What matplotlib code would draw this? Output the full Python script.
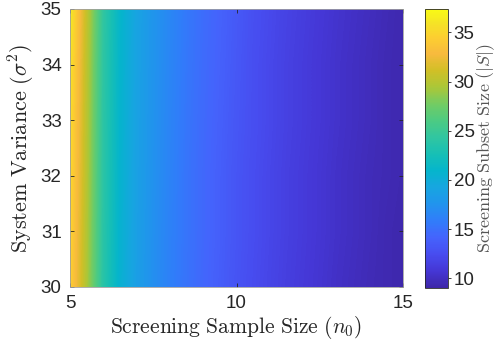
"""Heatmap of screening subset size versus sample size and variance."""
import numpy as np
import matplotlib
matplotlib.use("Agg")
import matplotlib.pyplot as plt
from matplotlib.colors import LinearSegmentedColormap

plt.rcParams['font.family'] = ['Liberation Sans', 'DejaVu Sans']
plt.rcParams['mathtext.fontset'] = 'cm'

# Grid: screening sample size n0 and system variance sigma^2
n0 = [5, 5.5, 6, 6.5, 7, 7.5, 8, 8.5, 9, 9.5, 10,
      10.5, 11, 11.5, 12, 12.5, 13, 13.5, 14, 14.5, 15]
sigma2 = [30, 31, 32, 33, 34, 35]

# Screening subset size |S|, one row per variance level
subset_size = [
    [34.6, 29.6, 23.8, 20.6, 18.6, 17.2, 16.1, 15.2, 14.4, 13.7, 13.0,
     12.4, 11.9, 11.4, 11.0, 10.6, 10.2, 9.9, 9.6, 9.4, 9.2],
    [35.0, 29.8, 23.9, 20.7, 18.7, 17.3, 16.2, 15.3, 14.5, 13.8, 13.1,
     12.5, 12.0, 11.5, 11.1, 10.7, 10.3, 10.0, 9.7, 9.4, 9.2],
    [35.3, 30.0, 24.0, 20.8, 18.8, 17.4, 16.3, 15.3, 14.5, 13.8, 13.1,
     12.5, 12.0, 11.5, 11.1, 10.7, 10.3, 10.0, 9.7, 9.5, 9.3],
    [35.6, 30.1, 24.1, 20.9, 18.9, 17.5, 16.4, 15.4, 14.6, 13.9, 13.2,
     12.6, 12.1, 11.6, 11.2, 10.8, 10.4, 10.1, 9.8, 9.5, 9.3],
    [36.0, 30.3, 24.2, 21.0, 19.0, 17.6, 16.5, 15.5, 14.7, 14.0, 13.3,
     12.6, 12.1, 11.6, 11.2, 10.8, 10.4, 10.1, 9.8, 9.5, 9.3],
    [36.6, 30.6, 24.4, 21.1, 19.1, 17.7, 16.6, 15.6, 14.8, 14.1, 13.4,
     12.7, 12.2, 11.7, 11.3, 10.9, 10.5, 10.2, 9.9, 9.6, 9.3],
]

# Approximation of MATLAB's parula colormap
parula_pts = [
    (0.00, (0.2422, 0.1504, 0.6603)),
    (0.06, (0.2704, 0.2139, 0.8346)),
    (0.12, (0.2810, 0.3000, 0.9400)),
    (0.18, (0.2700, 0.3900, 0.9900)),
    (0.24, (0.1900, 0.4900, 0.9800)),
    (0.30, (0.1300, 0.5800, 0.9300)),
    (0.36, (0.0900, 0.6500, 0.8800)),
    (0.42, (0.0200, 0.7100, 0.8000)),
    (0.48, (0.0900, 0.7500, 0.7100)),
    (0.54, (0.1900, 0.7750, 0.6300)),
    (0.60, (0.3000, 0.7950, 0.5100)),
    (0.66, (0.4500, 0.8000, 0.3900)),
    (0.72, (0.6700, 0.7800, 0.2200)),
    (0.78, (0.8200, 0.7500, 0.1500)),
    (0.84, (0.9700, 0.7300, 0.2400)),
    (0.90, (0.9900, 0.8100, 0.1900)),
    (0.95, (0.9600, 0.8900, 0.1500)),
    (1.00, (0.9769, 0.9839, 0.0805)),
]
parula = LinearSegmentedColormap.from_list("parula", parula_pts)

fig = plt.figure(figsize=(5.0, 3.42), dpi=100)
ax = fig.add_axes([0.14, 0.161, 0.666, 0.813])
cax = fig.add_axes([0.85, 0.158, 0.045, 0.816])

Z = np.array(subset_size)
dx = (n0[-1] - n0[0]) / (len(n0) - 1)
dy = (sigma2[-1] - sigma2[0]) / (len(sigma2) - 1)
# value interpolation between grid nodes (like MATLAB "shading interp")
img = ax.imshow(Z, origin='lower', aspect='auto', cmap=parula,
                interpolation='bilinear', interpolation_stage='data',
                extent=[n0[0] - dx / 2, n0[-1] + dx / 2,
                        sigma2[0] - dy / 2, sigma2[-1] + dy / 2],
                vmin=9.0, vmax=37.4)

ax.set_xlim(5, 15)
ax.set_ylim(30, 35)
ax.set_xticks([5, 10, 15])
ax.set_yticks([30, 31, 32, 33, 34, 35])
ax.tick_params(direction='in', length=3, width=0.6, colors='#262626',
               labelsize=13.5, top=True, right=True)
ax.tick_params(axis='x', pad=6)
ax.tick_params(axis='y', pad=6)
for sp in ax.spines.values():
    sp.set_color('#a0a0a0')
    sp.set_linewidth(0.6)

ax.set_xlabel(r'$\mathrm{Screening\ Sample\ Size\ }(n_0)$',
              fontsize=15.5, color='#262626', labelpad=1)
ax.set_ylabel(r'$\mathrm{System\ Variance\ }(\sigma^2)$',
              fontsize=16, color='#262626', labelpad=3)

cb = fig.colorbar(img, cax=cax)
cb.set_ticks([10, 15, 20, 25, 30, 35])
cb.ax.tick_params(direction='out', length=2.5, width=0.6, colors='#262626',
                  labelsize=13.5, pad=2)
cb.outline.set_edgecolor('#262626')
cb.outline.set_linewidth(0.6)
cb.set_label(r'$\mathrm{Screening\ Subset\ Size\ }(|S|)$',
             fontsize=13, color='#555555', labelpad=0)

fig.savefig("out.png", dpi=100)
